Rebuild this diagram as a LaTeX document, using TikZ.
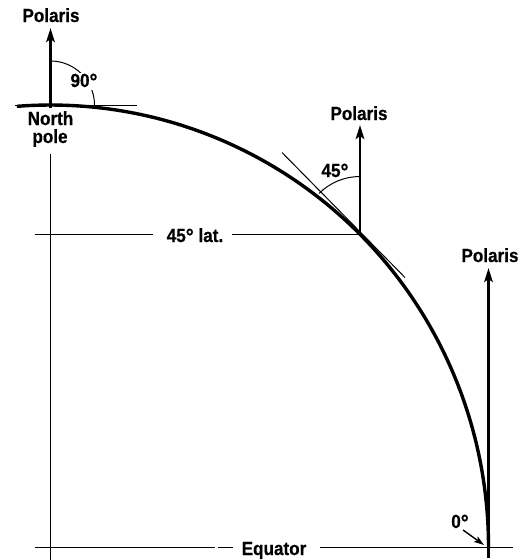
\documentclass[tikz,border=0pt]{standalone}
\usepackage{fontspec}
\setmainfont[FakeStretch=0.9,BoldFeatures={FakeBold=0.6}]{Liberation Sans}
\usetikzlibrary{arrows.meta,calc}
\newcommand\mydeg{\raisebox{-2pt}{\fontsize{22}{22}\selectfont°}}
\begin{document}
\begin{tikzpicture}[x=1pt,y=-1pt,
  lbl/.style={font=\fontsize{19}{21}\selectfont\bfseries, inner sep=0pt, anchor=base},
  earth/.style={line width=3.4pt},
  thinl/.style={line width=1pt},
  polar/.style={line width=2.8pt, -{Stealth[length=14pt,width=8.5pt,inset=3pt]}},
  small/.style={line width=1.4pt, -{Stealth[length=10pt,width=6.5pt,inset=2pt]}}]
\useasboundingbox (0,0) rectangle (518,560);
\coordinate (C) at (50.5,547);
\coordinate (NP) at (50.5,105);
\coordinate (L45) at (360,234.5);
\coordinate (EQ) at (488.5,547);
% earth surface
\draw[earth] (C) ++(-94.4:438 and 442) arc[start angle=-94.4, end angle=0, x radius=438, y radius=442];
% north pole
\node[lbl] (polA) at (51,22) {Polaris};
\coordinate (tipA) at (50.5,28);
\draw[polar] ($(NP)+(0,3)$) -- (tipA);
\coordinate (hl) at (15,105);
\coordinate (hr) at (137,105);
\draw[thinl] (hl) -- (hr);
\draw[thinl] ($(NP)+(0,-44)$) arc[start angle=-90, end angle=0, radius=44];
\node[lbl, fill=white, inner sep=0.5pt] (n90) at (84,87) {90\mydeg};
\node[lbl] (north) at (50.5,125) {North};
\node[lbl] (pole) at (50,143) {pole};
\coordinate (axtop) at (50.5,154);
\coordinate (axbot) at (50.5,560);
\draw[thinl] (axtop) -- (axbot);
% 45 latitude
\node[lbl] (lat) at (195,242) {45\mydeg\ lat.};
\coordinate (latA) at (35,234.5);
\coordinate (latB) at (153,234.5);
\coordinate (latC) at (232,234.5);
\draw[thinl] (latA) -- (latB);
\draw[thinl] (latC) -- (L45);
\coordinate (tipB) at (360,125);
\draw[polar] (L45) -- (tipB);
\node[lbl] (polB) at (359,120) {Polaris};
\draw[thinl] ($(L45)+(-78,-82)$) -- ($(L45)+(45,43)$);
\draw[thinl] ($(L45)+(0,-58)$) arc[start angle=-90, end angle=-135, radius=58];
\node[lbl] (n45) at (335,177) {45\mydeg};
% equator
\coordinate (botR) at (488.5,558);
\coordinate (tipC) at (488.5,268);
\draw[polar] (botR) -- (tipC);
\node[lbl] (polC) at (490,262) {Polaris};
\node[lbl] (n0) at (460,528) {0\mydeg};
\coordinate (zA) at (463,530);
\coordinate (zB) at (484,545);
\draw[small] (zA) -- (zB);
\node[lbl] (eq) at (274,555) {Equator};
\coordinate (e1) at (35,547);
\coordinate (e2) at (215,547);
\coordinate (e3) at (218,547);
\coordinate (e4) at (233,547);
\coordinate (e5) at (320,547);
\coordinate (e6) at (513,547);
\draw[thinl] (e1) -- (e2);
\draw[thinl] (e3) -- (e4);
\draw[thinl] (e5) -- (e6);
\end{tikzpicture}
\end{document}
